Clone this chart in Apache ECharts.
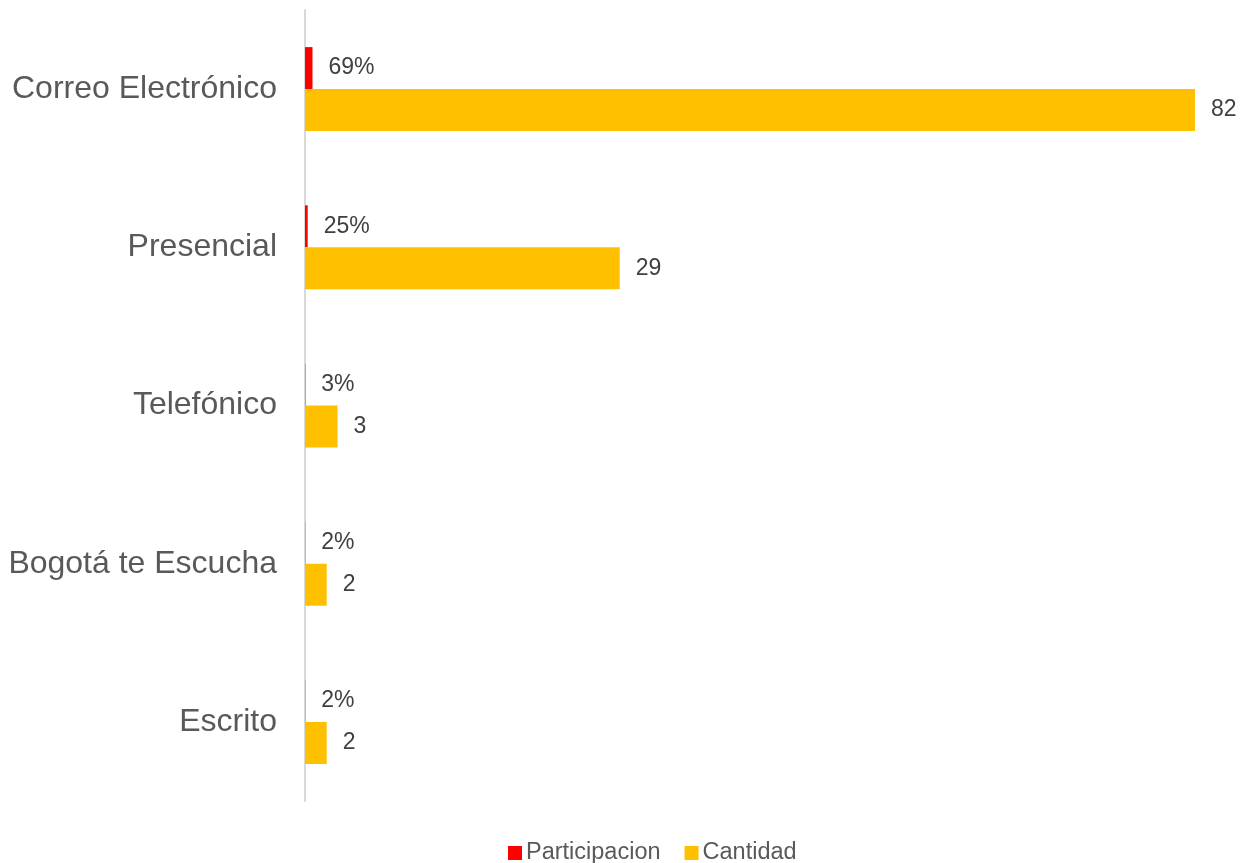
<!DOCTYPE html>
<html>
<head>
<meta charset="utf-8">
<script src="https://cdn.jsdelivr.net/npm/echarts@6/dist/echarts.min.js"></script>
<style>
  html, body { margin: 0; padding: 0; background: #fff; }
  #container { width: 1243px; height: 863px; }
</style>
</head>
<body>
<div id="container"></div>
<script>
// datos
var categorias = ['Correo Electrónico', 'Presencial', 'Telefónico', 'Bogotá te Escucha', 'Escrito'];
var participacion = [0.69, 0.25, 0.03, 0.02, 0.02];
var cantidad = [82, 29, 3, 2, 2];

var myChart = echarts.init(document.getElementById('container'));

var option = {
    animation: false,
    textStyle: { fontFamily: 'Arial, "Liberation Sans", sans-serif' },
    legend: {
        bottom: -7,
        left: 503,
        itemWidth: 14,
        itemHeight: 14,
        itemGap: 24,
        icon: 'rect',
        textStyle: { fontSize: 23.5, color: '#595959', padding: [0, 0, 0, -1] },
        data: ['Participacion', 'Cantidad']
    },
    grid: {
        left: 305,
        right: 48,
        top: 10,
        bottom: 62
    },
    xAxis: {
        type: 'value',
        min: 0,
        max: 82,
        show: false
    },
    yAxis: {
        type: 'category',
        inverse: true,
        data: categorias,
        axisLine: { show: true, lineStyle: { color: '#d9d9d9', width: 2 } },
        axisTick: { show: false },
        axisLabel: { fontSize: 32, color: '#595959', margin: 28 }
    },
    series: [
        {
            name: 'Participacion',
            type: 'bar',
            data: participacion,
            barWidth: 42,
            barGap: '0%',
            itemStyle: { color: '#ff0000' },
            label: {
                show: true,
                position: 'right',
                distance: 16,
                fontSize: 23,
                color: '#404040',
                formatter: function (p) { return Math.round(p.value * 100) + '%'; }
            }
        },
        {
            name: 'Cantidad',
            type: 'bar',
            data: cantidad,
            barWidth: 42,
            barGap: '0%',
            itemStyle: { color: '#ffc000' },
            label: {
                show: true,
                position: 'right',
                distance: 16,
                fontSize: 23,
                color: '#404040'
            }
        }
    ]
};
myChart.setOption(option);
</script>
</body>
</html>
